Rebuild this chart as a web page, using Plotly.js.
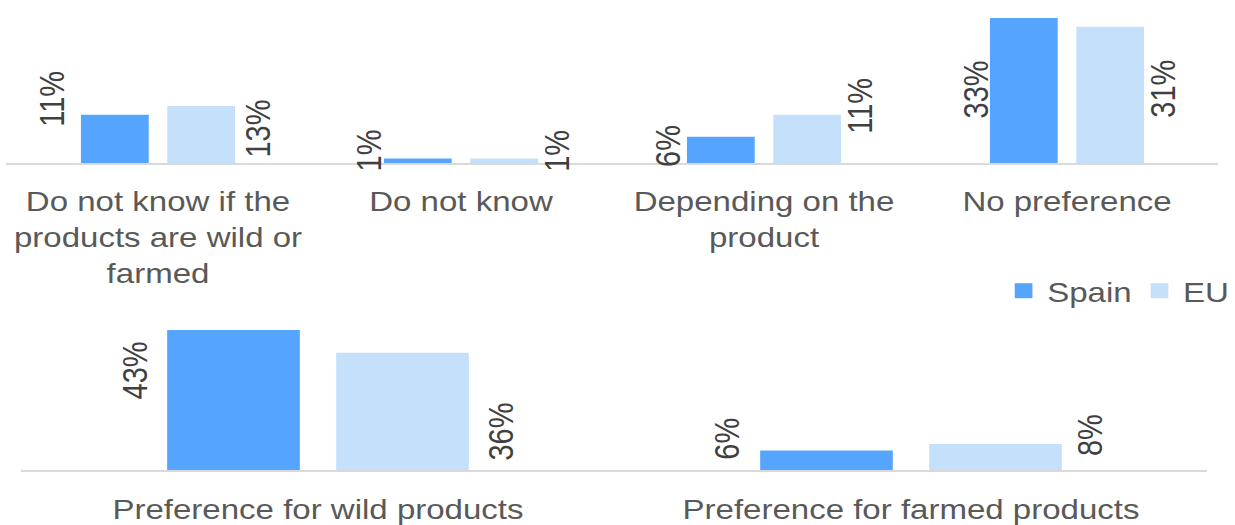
<!DOCTYPE html>
<html>
<head>
<meta charset="utf-8">
<script src="https://cdn.plot.ly/plotly-3.0.1.min.js"></script>
<style>
html,body{margin:0;padding:0;background:#fff;overflow:hidden;}
#wrap{width:1235px;height:525px;overflow:hidden;}
#chart{width:1047px;height:525px;transform-origin:0 0;transform:scaleX(1.17956);}
</style>
</head>
<body>
<div id="wrap"><div id="chart"></div></div>
<script>
// ---- data ----
var seriesNames = ["Spain", "EU"];
var categoriesTop = ["Do not know if the<br>products are wild or<br>farmed", "Do not know", "Depending on the<br>product", "No preference"];
var spainTop = [11, 1, 6, 33];
var euTop = [13, 1, 11, 31];
var categoriesBottom = ["Preference for wild products", "Preference for farmed products"];
var spainBottom = [43, 6];
var euBottom = [36, 8];

// ---- style ----
var spainColor = "#55A5FF";
var euColor = "#C5E0FB";
var fontFam = "Liberation Sans, Arial, sans-serif";
var labelFont = {family: fontFam, size: 29, color: "#404040"};
var tickFont = {family: fontFam, size: 28, color: "#595959"};
var legendFont = {family: fontFam, size: 28, color: "#595959"};
var STRETCH = 1235 / 1047; // the reference is horizontally stretched
// label offsets (reference pixels) – styling only
var topLabelDx = 96, bottomLabelDx = 183;
var spainTopDxAdj = [-10, 4, 0, 5], euTopDxAdj = [4, 0, 0, 0];
var spainTopDy = [16, 8, -9, -71], euTopDy = [-23, 8, 9, -62];
var spainBottomDxAdj = [0, 0], euBottomDxAdj = [0, -4];
var spainBottomDy = [-40, 12], euBottomDy = [-79, 9];

var W = 1235, H = 525;
function px(x) { return x / W; }
function py(y) { return (H - y) / H; }

var traces = [
  {type: "bar", x: categoriesTop, y: spainTop, name: seriesNames[0], marker: {color: spainColor}, xaxis: "x", yaxis: "y", showlegend: false, hoverinfo: "skip"},
  {type: "bar", x: categoriesTop, y: euTop, name: seriesNames[1], marker: {color: euColor}, xaxis: "x", yaxis: "y", showlegend: false, hoverinfo: "skip"},
  {type: "bar", x: categoriesBottom, y: spainBottom, name: seriesNames[0], marker: {color: spainColor}, xaxis: "x2", yaxis: "y2", showlegend: false, hoverinfo: "skip"},
  {type: "bar", x: categoriesBottom, y: euBottom, name: seriesNames[1], marker: {color: euColor}, xaxis: "x2", yaxis: "y2", showlegend: false, hoverinfo: "skip"},
  {type: "scatter", mode: "markers", x: [null], y: [null], name: seriesNames[0], marker: {symbol: "square", size: 15, color: spainColor}, xaxis: "x", yaxis: "y", legend: "legend"},
  {type: "scatter", mode: "markers", x: [null], y: [null], name: seriesNames[1], marker: {symbol: "square", size: 15, color: euColor}, xaxis: "x", yaxis: "y", legend: "legend2"}
];

var annotations = [];
function addLabels(cats, vals, dys, dx, adj, xr, yr) {
  for (var i = 0; i < cats.length; i++) {
    annotations.push({
      x: cats[i], y: vals[i], xref: xr, yref: yr,
      text: vals[i] + "%", showarrow: false, textangle: -90,
      xanchor: "center", yanchor: "middle",
      xshift: (dx + adj[i]) / STRETCH, yshift: dys[i], font: labelFont
    });
  }
}
addLabels(categoriesTop, spainTop, spainTopDy, -topLabelDx, spainTopDxAdj, "x", "y");
addLabels(categoriesTop, euTop, euTopDy, topLabelDx, euTopDxAdj, "x", "y");
addLabels(categoriesBottom, spainBottom, spainBottomDy, -bottomLabelDx, spainBottomDxAdj, "x2", "y2");
addLabels(categoriesBottom, euBottom, euBottomDy, bottomLabelDx, euBottomDxAdj, "x2", "y2");

var xCommon = {
  type: "category", showgrid: false, zeroline: false, showline: true,
  linecolor: "#d9d9d9", linewidth: 2, ticks: "", tickfont: tickFont,
  fixedrange: true, tickangle: 0
};
var yCommon = {showgrid: false, zeroline: false, showline: false, showticklabels: false, fixedrange: true};

var legendCommon = {orientation: "h", xanchor: "right", y: py(291), yanchor: "middle",
  font: legendFont, bgcolor: "rgba(0,0,0,0)"};

var layout = {
  width: 1047, height: H,
  margin: {l: 0, r: 0, t: 0, b: 0},
  paper_bgcolor: "#ffffff", plot_bgcolor: "#ffffff",
  barmode: "group", bargap: 0.43, bargroupgap: 0.215,
  showlegend: true,
  legend: Object.assign({}, legendCommon, {x: px(1138)}),
  legend2: Object.assign({}, legendCommon, {x: 1}),
  xaxis: Object.assign({}, xCommon, {domain: [px(6.5), px(1218.5)], anchor: "y", ticklabelstandoff: 12}),
  yaxis: Object.assign({}, yCommon, {domain: [py(163), py(18)], range: [0, 33], anchor: "x"}),
  xaxis2: Object.assign({}, xCommon, {domain: [px(21.5), px(1207.5)], anchor: "y2", ticklabelstandoff: 13}),
  yaxis2: Object.assign({}, yCommon, {domain: [py(470), py(330)], range: [0, 43], anchor: "x2"}),
  annotations: annotations
};

Plotly.newPlot("chart", traces, layout, {displayModeBar: false, staticPlot: true});
</script>
</body>
</html>
